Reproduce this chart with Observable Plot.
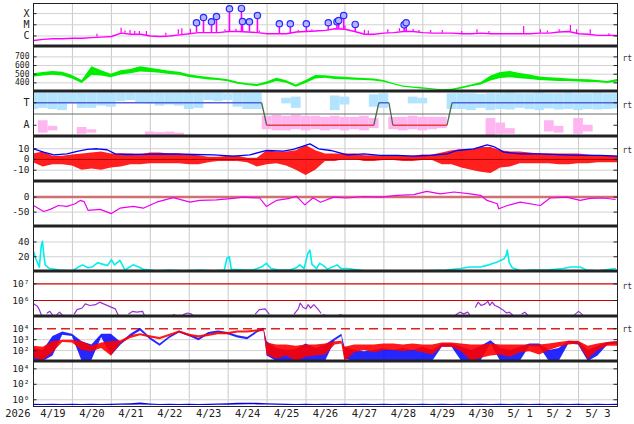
<!DOCTYPE html>
<html><head><meta charset="utf-8">
<script src="https://cdn.jsdelivr.net/npm/d3@7"></script>
<script src="https://cdn.jsdelivr.net/npm/@observablehq/plot@0.6"></script>
<style>
html,body{margin:0;padding:0;background:#fff;overflow:hidden;}
#chart{width:634px;}
#chart svg{display:block;}
</style></head><body><div id="chart"></div>
<script>
// ---------- time axis (days since 2026-04-19 00:00) ----------
const xDomain = [0, 15];
const dayLines = [1,2,3,4,5,6,7,8,9,10,11,12,13,14];
const dateLabels = ["4/19","4/20","4/21","4/22","4/23","4/24","4/25","4/26","4/27","4/28","4/29","4/30","5/ 1","5/ 2","5/ 3"];
const yearLabel = "2026";
const grid = d3.range(0, 15.001, 0.25); // 6-hourly sample times

// ---------- panel 1: X-ray flux (log10 W/m2) ----------
const xrayBase = [-6.4,-6.3,-6.25,-6.25,-6.2,-6.2,-6.15,-6.1,-6.05,-5.75,
 -5.85,-5.85,-6.0,-6.05,-6.0,-5.9,-5.8,-5.7,-5.7,-5.7,
 -5.6,-5.6,-5.65,-5.7,-5.8,-5.8,-5.8,-5.65,-5.6,-5.55,
 -5.5,-5.35,-5.4,-5.6,-5.85,-5.85,-5.75,-5.7,-5.6,-5.6,
 -5.7,-5.75,-5.75,-5.75,-5.8,-5.8,-5.75,-5.8,-5.8,-5.8,
 -5.8,-5.8,-5.75,-5.75,-5.65,-5.6,-5.8,-5.85,-5.95,-5.95,-5.95];
const spikeT = [1.63,2.25,2.35,2.48,2.6,2.72,2.9,3.4,3.72,3.81,4.03,4.92,5.2,5.8,6.8,7.15,7.3,7.9,8.0,8.5,8.6,9.1,9.4,9.75,9.9,10.2,10.5,11.0,11.39,11.7,12.59,13.02,13.2,13.5,13.79,13.95,14.3,14.78];
const spikeV = [-5.85,-5.3,-5.55,-5.5,-5.6,-5.6,-5.6,-5.75,-5.45,-5.35,-5.4,-5.45,-5.4,-5.55,-5.5,-5.45,-5.5,-5.3,-5.1,-5.5,-5.55,-5.45,-5.35,-5.4,-5.5,-5.5,-5.5,-5.6,-5.45,-5.6,-5.15,-5.45,-5.55,-5.45,-5.06,-5.45,-5.45,-5.8];
const flareT = [4.187,4.367,4.572,4.700,5.033,5.341,5.367,5.546,5.751,6.315,6.597,7.008,7.572,7.795,7.838,7.967,8.264,9.520,9.572];
const flareV = [-4.82,-4.35,-4.73,-4.26,-3.57,-3.54,-4.71,-4.73,-4.17,-4.91,-4.91,-4.91,-4.82,-4.73,-4.62,-4.17,-4.97,-5.0,-4.82];
const xrayTicks = [1e-4, 1e-5, 1e-6];
const xrayLabels = ["X","M","C"];

// ---------- panel 2: solar wind speed (km/s), 6-hourly range ----------
const speedLo = [465,480,488,478,445,392,485,480,460,490,505,525,520,510,497,487,463,447,433,426,413,383,370,358,380,417,395,350,392,445,453,440,435,431,426,420,408,377,349,337,327,319,309,310,330,355,375,420,450,460,448,440,428,422,417,415,410,405,403,393,410];
const speedHi = [505,520,532,522,485,428,585,540,500,540,555,585,570,550,533,523,493,477,463,450,437,407,390,382,410,453,425,374,428,485,483,470,465,455,450,444,428,393,365,353,343,331,321,326,350,375,405,480,520,530,508,490,468,458,453,445,440,435,427,417,440];
const speedTicks = [700,600,500,400];

// ---------- panel 3: IMF sector (T = toward, A = away) ----------
const sectorT = [0,5.86,5.99,8.74,8.87,9.13,9.23,10.62,10.75,15];
const sectorPol = [1,1,-1,-1,1,1,-1,-1,1,1];
const imfBlueLo = [0.4,0.5,0.4,0.3,0.9,0.5,0.5,0.7,0.6,1.1,
 1.2,1.0,0.9,0.7,0.8,0.7,0.4,0.5,1.2,1.1,
 1.2,0.6,0.4,0.4,null,null,0.9,0.5,null,null,
 null,0.3,0.8,null,null,0.6,0.5,null,null,0.9,
 0.9,null,null,0.4,0.4,0.3,0.5,0.3,0.4,0.35,
 0.5,0.4,0.3,0.45,0.35,0.4,0.3,0.4,0.35,0.4,0.45];
const imfBlueHi = [1.85,1.85,1.85,1.85,1.85,1.85,1.85,1.85,1.85,1.85,
 1.85,1.85,1.85,1.85,1.85,1.85,1.85,1.85,1.85,1.85,
 1.8,1.85,1.85,1.85,null,null,1.4,1.5,null,null,
 null,1.6,1.5,null,null,1.7,1.8,null,null,1.5,
 1.4,null,null,1.8,1.8,1.8,1.75,1.8,1.8,1.85,
 1.8,1.8,1.85,1.8,1.8,1.85,1.8,1.8,1.85,1.8,1.8];
const imfPinkLo = [null,-1.7,-1.5,null,null,-1.8,-1.7,null,null,null,
 null,null,-1.9,-1.9,-1.9,-1.9,null,null,null,null,
 null,null,null,null,-1.4,-1.5,-1.5,-1.4,-1.5,-1.4,
 -1.5,-1.4,-1.5,-1.4,-1.5,-1.3,null,-1.4,-1.5,-1.4,
 -1.5,-1.4,-1.3,null,null,null,null,-1.9,-1.8,-1.8,
 null,null,null,-1.6,-1.7,null,-1.8,-1.6,null,null,null];
const imfPinkHi = [null,-0.6,-1.1,null,null,-1.2,-1.4,null,null,null,
 null,null,-1.6,-1.65,-1.6,-1.7,null,null,null,null,
 null,null,null,null,-0.2,-0.1,-0.2,-0.1,-0.2,-0.2,
 -0.3,-0.2,-0.3,-0.3,-0.2,-0.4,null,-0.3,-0.3,-0.2,
 -0.3,-0.3,-0.3,null,null,null,null,-0.4,-0.8,-1.3,
 null,null,null,-0.6,-1.1,null,-0.4,-1.0,null,null,null];
const imfTicks = [1, -1];
const imfLabels = ["T","A"];

// ---------- panel 4: IMF Bt (blue) and Bz range (red), nT ----------
const btT = [0,0.26,0.52,0.86,1.12,1.38,1.63,1.89,2.1,2.4,3.0,3.6,4.11,4.62,5.14,5.56,5.99,6.42,6.67,6.85,7.1,7.32,7.63,8.06,8.49,8.91,9.34,9.77,10.2,10.62,10.88,11.31,11.65,11.82,12.08,12.5,13.02,13.62,14.04,14.56,15];
const btV = [9.9,6.8,4.3,5.2,7.4,9.3,9.9,9,5.2,4.6,4.9,5.2,4.6,4.3,3.1,4.3,8.3,7.7,9.3,11.4,14.5,9.9,8.3,4.3,5.2,3.7,3.7,3.1,3.7,5.2,8.3,9.9,13.6,12,6.8,5.2,5.2,4.3,3.7,3.7,3.1];
const bzLo = [-3,-7,-5,-5,-6,-10,-9,-10,-8,-7,-5,-5,-4,-4,-4,-4,-5,-5,-3,-2,-2,-2,-3,-7,-5,-4,-6,-10,-15,-10,-2,-2,0,0,-2,-2,-1,-1,-2,-2,-1,-1,-5,-5,-8,-10,-12,-13,-8,-7,-4,-4,-4,-4,-5,-5,-4,-4,-3,-3,-3];
const bzHi = [5,7,3,3,4,5,6,7,5,5,5,4,6,6,5,5,4,3.5,2,2,3,3,1,1,8,7,7,8,13,8,5,5,5,5,3.5,3.5,3.5,3.5,3,3,4,4,6,8,9,9,11,11,8,7,7,6,5,5,5,5,5,4,3.5,3.5,3];
const bTicks = [10, 0, -10];
const bLabels = ["10","0","-10"];

// ---------- panel 5: Dst (nT) ----------
const dstT = [0,0.26,0.43,0.64,0.86,1.07,1.2,1.3,1.4,1.71,2.0,2.22,2.56,2.82,3.16,3.59,4.02,4.27,4.7,5.13,5.38,5.81,5.98,6.24,6.58,6.75,6.97,7.18,7.37,7.71,8.06,8.49,8.91,9.34,9.77,10.1,10.45,10.8,11.22,11.48,11.65,11.91,11.95,12.17,12.5,13.02,13.27,13.7,14.04,14.3,14.64,14.94];
const dstV = [-28,-48,-41,-28,-31,-22,-11,-15,-44,-41,-55,-37,-31,-37,-17,-2,-17,-11,-9,-4,0,-3,-31,-11,-4,3,-26,-2,-17,0,-3,2,0,6,8,19,11,17,11,6,-11,-22,-39,-28,-17,-28,-3,0,-11,-4,-3,-8];
const dstTicks = [0, -50];
const dstLabels = ["0","-50"];

// ---------- panel 6: cyan index ----------
const cyT = [0,0.07,0.15,0.2,0.23,0.26,0.3,0.41,0.67,1.0,1.15,1.26,1.4,1.5,1.65,1.77,1.9,2.0,2.08,2.22,2.35,2.56,2.7,2.82,3.16,3.5,3.85,4.3,4.62,4.9,4.97,5.03,5.08,5.4,5.64,5.85,5.98,6.1,6.3,6.58,6.75,6.84,6.95,7.05,7.1,7.15,7.27,7.35,7.45,7.55,7.8,7.9,8.06,8.5,9.0,9.5,10.0,10.6,10.97,11.2,11.48,11.7,11.91,12.08,12.14,12.17,12.22,12.3,12.5,12.8,13.19,13.6,13.8,14.04,14.2,14.5,14.94];
const cyV = [27,16,6,35,41,25,9,4,2,1,6,9,5,6,12,10,8,16,9,15,2,9,6,3,1,2,1,2,1,2,18,20,3,2,2,6,11,4,2,2,5,9,4,25,29,10,4,11,8,3,9,4,4,1,1,0.5,1,2,4,6,6,9,13,17,22,29,12,5,1,2,2,4,6,6,2,1,4];
const cyTicks = [40, 20];

// ---------- panel 7: electron flux (log10), null = gap ----------
const purT = [0,0.1,0.15,0.2,0.25, 0.35,0.42,0.5,0.55, 0.6,0.67,0.75,0.8, 1.05,1.12,1.25,1.33,1.45,1.59,1.7,1.8,1.95,2.1,2.17,2.2, 2.45,2.55,2.65,2.8,2.85,2.9, 3.6,3.65,3.7, 3.85,3.95,4.05,4.1,4.15, 5.7,5.8,5.95,6.05,6.1, 6.7,6.8,6.85,6.92,7.0,7.05,7.12,7.2,7.3,7.38,7.42, 7.45,7.5,7.55, 7.83,7.9,7.95, 10.85,10.95,11.05,11.15,11.2,11.25, 11.35,11.42,11.5,11.6,11.67,11.72,11.78,11.85,11.95,12.05,12.15,12.22,12.3,12.35, 12.55,12.62,12.7,12.75, 13.9,14.0,14.1,14.15];
const purV = [5.8,5.65,5.45,5.15,null, 5.25,5.35,5.1,null, 5.15,5.3,5.1,null, 5.2,5.45,5.55,5.8,5.7,5.75,5.9,5.8,5.65,5.5,5.15,null, 5.2,5.35,5.3,5.35,5.1,null, 5.15,5.1,null, 5.15,5.25,5.2,5.1,null, 5.2,5.45,5.5,5.2,null, 5.2,5.5,5.85,5.6,5.5,5.75,5.55,5.75,5.5,5.25,null, 5.15,5.1,null, 5.1,5.15,null, 5.15,5.3,5.2,5.3,5.15,null, 5.6,5.9,5.7,5.8,5.95,5.7,5.9,5.7,5.6,5.45,5.25,5.3,5.15,null, 5.2,5.3,5.1,null, 5.15,5.35,5.15,null];
const eTicks = [1e7, 1e6];
const eLabels = ["10\u2077","10\u2076"];

// ---------- panel 8: particle flux ranges (log10), blue and red ----------
const fluxT = [0,0.25,0.5,0.75,1,1.25,1.5,1.75,2,2.25,2.5,2.75,3,3.25,3.5,3.75,4,4.25,4.5,4.75,5,5.25,5.5,5.75,5.92,6,6.25,6.5,6.75,7,7.25,7.5,7.75,7.92,8,8.25,8.5,8.75,9,9.25,9.5,9.75,10,10.25,10.5,10.75,11,11.25,11.5,11.75,12,12.25,12.5,12.75,13,13.25,13.5,13.75,14,14.25,14.5,14.75,15];
const blueLo = [1.0,1.0,1.5,3.4,3.3,1.0,1.1,3.2,1.5,2.5,3.25,3.8,3.0,2.4,3.1,3.6,3.3,2.9,3.45,3.6,3.45,3.15,3.0,3.6,3.9,1.5,1.0,1.0,1.0,1.0,1.0,1.0,2.9,3.3,1.2,1.0,1.0,1.0,1.0,1.0,1.0,1.0,1.0,1.0,2.3,2.3,1.0,1.0,1.1,2.6,1.0,1.0,1.0,2.4,2.3,1.0,1.0,2.6,2.5,1.0,1.5,2.5,2.6];
const blueHi = [2.2,2.0,3.3,3.7,3.5,2.8,2.5,3.5,3.5,2.75,3.5,4.05,3.2,2.6,3.3,3.8,3.5,3.1,3.65,3.8,3.65,3.35,3.2,3.8,4.05,2.8,2.2,2.0,2.1,2.6,2.2,2.5,3.1,3.5,2.3,2.0,1.9,2.0,2.2,2.0,2.2,2.0,2.3,2.0,2.6,2.6,2.3,2.0,2.4,2.9,2.2,2.0,2.3,2.6,2.6,2.0,2.2,2.85,2.8,2.0,2.4,2.75,2.8];
const redLo = [1.3,1.1,1.8,2.75,2.7,2.0,1.9,2.2,1.5,2.65,3.1,3.35,3.15,3.0,3.3,3.6,3.3,3.15,3.3,3.45,3.45,3.6,3.6,3.7,3.75,1.6,1.2,1.5,1.0,1.4,1.5,1.6,2.5,2.6,1.0,1.8,2.0,1.8,2.0,2.0,1.9,2.0,1.8,1.6,2.3,2.3,1.9,1.0,1.3,1.5,1.6,1.4,1.8,1.9,1.6,2.0,2.3,2.5,2.6,1.2,2.0,2.4,2.4];
const redHi = [2.4,2.3,2.8,2.95,2.95,2.8,2.4,2.7,2.8,2.9,3.35,3.55,3.35,3.2,3.5,3.8,3.5,3.35,3.5,3.65,3.65,3.8,3.8,3.9,3.95,2.7,2.5,2.5,2.4,2.5,2.5,2.6,2.8,2.85,2.3,2.5,2.5,2.5,2.6,2.6,2.5,2.6,2.5,2.5,2.7,2.7,2.6,2.5,2.5,2.6,2.5,2.5,2.5,2.5,2.5,2.6,2.75,2.85,2.85,2.4,2.6,2.75,2.8];
const fluxTicks = [1e4, 1e3, 1e2];
const fluxLabels = ["10\u2074","10\u00b3","10\u00b2"];
const fluxAlert = [1e4];

// ---------- panel 9: proton flux range (log10) ----------
const protonLo = [-0.75,-0.74,-0.75,-0.75,-0.74,-0.75,-0.75,-0.74,-0.75,-0.72,
 -0.72,-0.66,-0.72,-0.75,-0.75,-0.75,-0.74,-0.75,-0.75,-0.72,
 -0.7,-0.66,-0.65,-0.66,-0.68,-0.72,-0.74,-0.75,-0.74,-0.75,
 -0.75,-0.74,-0.75,-0.75,-0.75,-0.74,-0.75,-0.75,-0.75,-0.74,
 -0.75,-0.75,-0.74,-0.75,-0.75,-0.75,-0.74,-0.75,-0.75,-0.75,
 -0.75,-0.74,-0.75,-0.75,-0.75,-0.74,-0.75,-0.75,-0.75,-0.74,-0.75];
const protonHi = [-0.58,-0.6,-0.58,-0.6,-0.58,-0.6,-0.58,-0.6,-0.58,-0.55,
 -0.52,-0.42,-0.55,-0.6,-0.58,-0.6,-0.58,-0.6,-0.58,-0.55,
 -0.5,-0.45,-0.44,-0.45,-0.5,-0.55,-0.58,-0.6,-0.58,-0.6,
 -0.58,-0.6,-0.58,-0.6,-0.58,-0.6,-0.58,-0.6,-0.58,-0.6,
 -0.58,-0.6,-0.58,-0.6,-0.58,-0.6,-0.58,-0.6,-0.58,-0.6,
 -0.58,-0.6,-0.58,-0.6,-0.58,-0.6,-0.58,-0.6,-0.58,-0.6,-0.58];
const pTicks = [1e4, 1e2, 1];
const pLabels = ["10\u2074","10\u00b2","10\u2070"];

// ---------- helpers ----------
const val = (v, log) => (v == null ? NaN : (log ? 10 ** v : v));
function band(ts, lo, hi, log, opts) {
  const I = ts.map((_, i) => i);
  return Plot.areaY(I, {x: i => ts[i], y1: i => val(lo[i], log), y2: i => val(hi[i], log), curve: "linear", clip: true, ...opts});
}
function blocks(ts, lo, hi, half, opts) {
  const I = ts.map((_, i) => i);
  return Plot.rect(I, {x1: i => ts[i] - half, x2: i => ts[i] + half, y1: i => val(lo[i], false), y2: i => val(hi[i], false), clip: true, ...opts});
}
function series(ts, vs, log, opts) {
  const I = ts.map((_, i) => i);
  return Plot.line(I, {x: i => ts[i], y: i => val(vs[i], log), clip: true, ...opts});
}
const FONT = "'DejaVu Sans Mono', monospace";

function panel({height = 45, marginTop = 0, marginBottom = 0, y, ticks = [], labels = null, gridY = [], marks = [], top = 2, bottom = 4, rt = null, extra = [], labelSize = 9.5}) {
  const [y0, y1] = y.domain;
  const lab = labels || ticks.map(String);
  const ms = [
    Plot.ruleX(dayLines, {stroke: "#c9c9c9", strokeWidth: 1}),
    Plot.ruleY(gridY, {stroke: "#d2d2d2", strokeWidth: 1}),
    ...marks,
    Plot.ruleY(ticks, {x1: xDomain[0], x2: xDomain[0] + 0.09, stroke: "#222"}),
    Plot.ruleY(ticks, {x1: xDomain[1] - 0.09, x2: xDomain[1], stroke: "#222"}),
    Plot.text(ticks, {y: d => d, text: (d, i) => lab[i], frameAnchor: "left", textAnchor: "end", dx: -4, fill: "#222", fontSize: labelSize}),
    Plot.frame({stroke: "#222", strokeWidth: 1})
  ];
  if (bottom) ms.push(Plot.ruleY([y0], {stroke: "#222", strokeWidth: bottom}));
  if (top) ms.push(Plot.ruleY([y1], {stroke: "#222", strokeWidth: top}));
  if (rt != null) ms.push(Plot.text(["rt"], {frameAnchor: "top-right", textAnchor: "start", dx: 5, dy: rt, fontSize: 8, fill: "#333"}));
  ms.push(...extra);
  return Plot.plot({
    width: 634, height, marginLeft: 33, marginRight: 17, marginTop, marginBottom,
    x: {domain: xDomain, axis: null},
    y: {...y, axis: null},
    style: {background: "#fff", fontFamily: FONT, fontSize: "10px", color: "#222", overflow: "hidden"},
    marks: ms
  });
}

// X-ray base lookup at a time (nearest 6-hourly sample)
const baseAt = t => 10 ** xrayBase[Math.max(0, Math.min(xrayBase.length - 1, Math.round(t / 0.25)))];

const spikes = spikeT.map((t, i) => ({t, v: spikeV[i]}));
const flares = flareT.map((t, i) => ({t, v: flareV[i]}));

const segs = sectorT.slice(1).map((t, i) => ({x1: sectorT[i], x2: t, y1: sectorPol[i], y2: sectorPol[i + 1]}));
const segT = segs.filter(s => s.y1 === s.y2 && s.y1 > 0);
const segA = segs.filter(s => s.y1 === s.y2 && s.y1 < 0);
const segX = segs.filter(s => s.y1 !== s.y2);

const chart = document.getElementById("chart");
const panels = [
  panel({height: 46, marginTop: 3, top: 0,
    y: {type: "log", domain: [10 ** -6.94, 10 ** -3.1]},
    ticks: xrayTicks, labels: xrayLabels, gridY: xrayTicks, labelSize: 10,
    marks: [
      Plot.ruleX(spikes, {x: "t", y1: d => baseAt(d.t), y2: d => 10 ** d.v, stroke: "#ff00ff", strokeWidth: 1.2}),
      series(grid, xrayBase, true, {stroke: "#ff00ff", strokeWidth: 1.4}),
      Plot.ruleX(flares, {x: "t", y1: d => baseAt(d.t), y2: d => 10 ** d.v, stroke: "#ff00ff", strokeWidth: 1.6}),
      Plot.dot(flares, {x: "t", y: d => 10 ** d.v, r: 3.2, fill: "#b4b4ff", stroke: "#2828ff", strokeWidth: 1.2})
    ]}),
  panel({y: {domain: [300, 820]}, ticks: speedTicks, gridY: speedTicks, rt: 9, labelSize: 8,
    marks: [band(grid, speedLo, speedHi, false, {fill: "#00ee00"})]}),
  panel({y: {domain: [-2, 2]}, ticks: imfTicks, labels: imfLabels, rt: 10.5, labelSize: 10,
    marks: [
      blocks(grid, imfBlueLo, imfBlueHi, 0.125, {fill: "#b2e4ff"}),
      blocks(grid, imfPinkLo, imfPinkHi, 0.125, {fill: "#ffb6f0"}),
      Plot.ruleY([0], {stroke: "#6a6a6a"}),
      Plot.link(segX, {x1: "x1", x2: "x2", y1: "y1", y2: "y2", stroke: "#4a6a4a", strokeWidth: 1.3}),
      Plot.link(segT, {x1: "x1", x2: "x2", y1: "y1", y2: "y2", stroke: "#5560dd", strokeWidth: 1.5}),
      Plot.link(segA, {x1: "x1", x2: "x2", y1: "y1", y2: "y2", stroke: "#e8403a", strokeWidth: 1.5})
    ]}),
  panel({y: {domain: [-20.5, 21.3]}, ticks: bTicks, labels: bLabels, gridY: [10, -10], rt: 10.5,
    marks: [
      band(grid, bzLo, bzHi, false, {fill: "#ff0000", fillOpacity: 0.88}),
      Plot.ruleY([0], {stroke: "#b00000"}),
      series(btT, btV, false, {stroke: "#0000ff", strokeWidth: 1.3})
    ]}),
  panel({y: {domain: [-98, 52]}, ticks: dstTicks, labels: dstLabels, gridY: [-50],
    marks: [
      Plot.ruleY([0], {stroke: "#d07070", strokeWidth: 2.5}),
      series(dstT, dstV, false, {stroke: "#ee00ee", strokeWidth: 1.2})
    ]}),
  panel({y: {domain: [0, 61]}, ticks: cyTicks, gridY: cyTicks,
    marks: [series(cyT, cyV, false, {stroke: "#00eeee", strokeWidth: 1.6})]}),
  panel({y: {type: "log", domain: [10 ** 5.04, 10 ** 7.74]}, ticks: eTicks, labels: eLabels, rt: 12,
    marks: [
      Plot.ruleY(eTicks, {stroke: "#cc0000", strokeWidth: 1.2}),
      series(purT, purV, true, {stroke: "#9a30d0", strokeWidth: 1.2})
    ]}),
  panel({y: {type: "log", domain: [10 ** 1.0, 10 ** 5.12]}, ticks: fluxTicks, labels: fluxLabels, gridY: [1e3, 1e2], rt: 10,
    marks: [
      Plot.ruleY(fluxAlert, {stroke: "#e02020", strokeWidth: 1.5, strokeDasharray: "9,5"}),
      band(fluxT, blueLo, blueHi, true, {fill: "#0000ff", fillOpacity: 0.85}),
      band(fluxT, redLo, redHi, true, {fill: "#ff0000", fillOpacity: 0.9})
    ]}),
  panel({height: 63, marginBottom: 18, bottom: 0,
    y: {type: "log", domain: [10 ** -0.87, 10 ** 4.95]}, ticks: pTicks, labels: pLabels, gridY: pTicks,
    marks: [band(grid, protonLo, protonHi, true, {fill: "#0000ee"})],
    extra: [
      Plot.text(dateLabels, {x: (d, i) => i + 0.5, text: d => d, frameAnchor: "bottom", dy: 10, fill: "#222", fontSize: 10.5}),
      Plot.text([yearLabel], {text: d => d, frameAnchor: "bottom-left", textAnchor: "end", dx: -3, dy: 10, fill: "#222", fontSize: 10.5})
    ]})
];
panels.forEach(p => chart.appendChild(p));
</script>
</body></html>
